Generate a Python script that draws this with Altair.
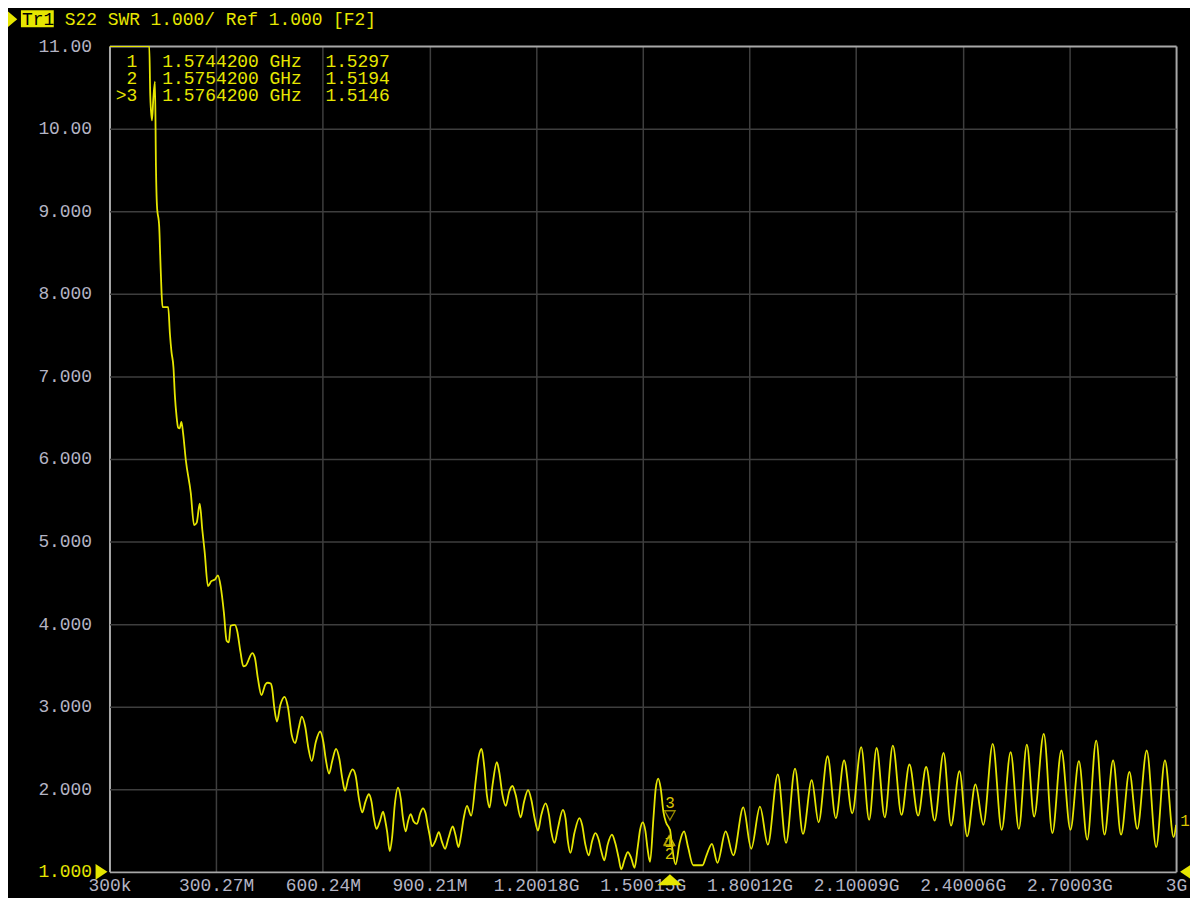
import altair as alt
import pandas as pd

FONT = "Liberation Mono"
YELLOW = "#e6e600"
MARK_YELLOW = "#d8c400"
LABEL_GREY = "#b4b4c4"
GRID = "#3e3e3e"
FRAME = "#a8a8a8"

# ---- trace (S22 SWR), frequency in MHz ----
freq_mhz = [
    0.3, 56.3, 112.2, 115.0, 119.8, 123.4, 128.2, 131.0, 133.8, 140.2,
    143.0, 146.6, 149.5, 165.4, 170.2, 174.6, 180.2, 184.2, 188.6, 193.4,
    197.6, 202.6, 207.4, 214.9, 228.9, 238.2, 245.7, 254.1, 261.4, 268.1,
    277.3, 286.6, 296.9, 305.3, 312.9, 322.1, 329.7, 336.1, 340.9, 352.9,
    359.3, 368.8, 376.7, 383.7, 401.9, 408.9, 417.8, 427.6, 438.8, 445.2,
    453.6, 457.8, 464.0, 471.3, 480.8, 492.8, 502.0, 513.2, 522.7, 532.0,
    541.2, 550.7, 560.0, 569.2, 580.4, 592.7, 601.9, 608.4, 617.9, 627.1,
    637.5, 646.7, 655.1, 662.7, 671.9, 683.9, 692.3, 701.8, 711.1, 720.3,
    729.8, 737.1, 743.8, 751.1, 760.6, 769.8, 776.3, 781.0, 788.6, 795.0,
    802.6, 811.8, 819.4, 825.8, 833.4, 839.8, 847.3, 855.7, 865.0, 874.2,
    881.8, 889.3, 895.8, 900.5, 907.0, 916.2, 926.5, 934.9, 944.2, 953.7,
    965.7, 973.3, 981.7, 988.9, 996.5, 1005.7, 1017.5, 1030.9, 1038.5, 1046.9,
    1054.4, 1061.7, 1069.3, 1077.6, 1089.7, 1096.4, 1105.6, 1114.9, 1124.4, 1133.6,
    1142.8, 1156.8, 1166.3, 1177.5, 1186.8, 1196.0, 1205.5, 1214.8, 1226.8, 1236.3,
    1242.7, 1252.0, 1261.5, 1275.5, 1282.8, 1289.5, 1296.8, 1307.9, 1321.9, 1329.5,
    1338.7, 1348.2, 1357.5, 1366.7, 1376.2, 1383.5, 1391.9, 1401.4, 1413.4, 1422.7,
    1432.2, 1439.5, 1449.0, 1458.2, 1467.4, 1477.0, 1486.2, 1492.6, 1500.2, 1507.7,
    1513.3, 1520.6, 1530.1, 1536.6, 1543.6, 1550.6, 1558.1, 1565.4, 1574.42, 1575.42,
    1576.42, 1582.7, 1592.5, 1603.7, 1616.3, 1627.5, 1642.1, 1668.1, 1679.3, 1694.7,
    1710.1, 1733.3, 1754.8, 1782.8, 1805.2, 1829.8, 1851.9, 1879.9, 1903.1, 1928.3,
    1950.7, 1975.3, 1994.6, 2019.8, 2043.1, 2066.3, 2089.2, 2114.4, 2136.8, 2157.8,
    2180.7, 2203.4, 2227.8, 2250.1, 2274.5, 2297.1, 2320.9, 2346.1, 2367.1, 2390.9,
    2412.4, 2435.7, 2458.0, 2484.4, 2509.5, 2534.7, 2557.9, 2580.3, 2600.8, 2627.9,
    2652.2, 2677.4, 2702.9, 2726.7, 2750.2, 2775.4, 2798.6, 2822.9, 2845.3, 2868.6,
    2890.9, 2917.5, 2944.1, 2968.7, 2993.1, 3000.0,
]
swr = [
    11.0, 11.0, 11.0, 10.40, 10.10, 10.35, 10.57, 9.54, 9.07, 8.81,
    8.46, 8.03, 7.84, 7.84, 7.52, 7.30, 7.11, 6.77, 6.53, 6.38,
    6.37, 6.45, 6.31, 5.99, 5.59, 5.20, 5.23, 5.46, 5.14, 4.87,
    4.46, 4.52, 4.54, 4.59, 4.46, 4.14, 3.80, 3.78, 3.98, 3.99,
    3.92, 3.66, 3.49, 3.50, 3.65, 3.60, 3.34, 3.14, 3.27, 3.29,
    3.28, 3.22, 2.98, 2.82, 3.02, 3.12, 3.00, 2.65, 2.56, 2.73,
    2.88, 2.76, 2.49, 2.34, 2.57, 2.70, 2.57, 2.37, 2.19, 2.35,
    2.49, 2.37, 2.13, 1.98, 2.13, 2.24, 2.17, 1.89, 1.72, 1.85,
    1.94, 1.85, 1.65, 1.52, 1.61, 1.73, 1.61, 1.49, 1.25, 1.41,
    1.81, 2.02, 1.89, 1.65, 1.49, 1.61, 1.70, 1.61, 1.58, 1.71,
    1.77, 1.71, 1.55, 1.45, 1.31, 1.37, 1.48, 1.37, 1.28, 1.41,
    1.55, 1.45, 1.30, 1.44, 1.65, 1.80, 1.68, 2.13, 2.39, 2.49,
    2.27, 1.93, 1.78, 2.05, 2.33, 2.21, 1.93, 1.80, 1.97, 2.04,
    1.93, 1.66, 1.85, 1.99, 1.87, 1.65, 1.50, 1.69, 1.83, 1.69,
    1.49, 1.35, 1.53, 1.75, 1.65, 1.37, 1.23, 1.47, 1.65, 1.57,
    1.33, 1.20, 1.37, 1.47, 1.39, 1.25, 1.14, 1.33, 1.45, 1.35,
    1.17, 1.03, 1.15, 1.24, 1.17, 1.05, 1.31, 1.51, 1.60, 1.49,
    1.29, 1.12, 1.65, 2.01, 2.13, 2.01, 1.73, 1.60, 1.5297, 1.5194,
    1.5146, 1.30, 1.09, 1.35, 1.49, 1.30, 1.08, 1.08, 1.20, 1.34,
    1.11, 1.49, 1.20, 1.78, 1.28, 1.79, 1.33, 2.18, 1.35, 2.25,
    1.46, 2.11, 1.60, 2.40, 1.65, 2.35, 1.71, 2.51, 1.63, 2.50,
    1.66, 2.53, 1.69, 2.30, 1.68, 2.27, 1.62, 2.44, 1.56, 2.22,
    1.43, 2.06, 1.57, 2.55, 1.51, 2.45, 1.52, 2.54, 1.67, 2.67,
    1.47, 2.47, 1.51, 2.34, 1.39, 2.59, 1.45, 2.35, 1.45, 2.21,
    1.52, 2.47, 1.30, 2.35, 1.42, 1.57,
]
assert len(freq_mhz) == len(swr)

# ---- axes ----
x_tick_values = [0.3, 300.27, 600.24, 900.21, 1200.18, 1500.15,
                 1800.12, 2100.09, 2400.06, 2700.03, 3000.0]
x_tick_labels = ["300k", "300.27M", "600.24M", "900.21M", "1.20018G", "1.50015G",
                 "1.80012G", "2.10009G", "2.40006G", "2.70003G", "3G"]
y_tick_values = [1, 2, 3, 4, 5, 6, 7, 8, 9, 10, 11]
y_tick_labels = ["1.000", "2.000", "3.000", "4.000", "5.000", "6.000",
                 "7.000", "8.000", "9.000", "10.00", "11.00"]

# ---- markers ----
marker_ids = [1, 2, 3]
marker_freq_ghz = [1.5744200, 1.5754200, 1.5764200]
marker_swr = [1.5297, 1.5194, 1.5146]
active_marker = 3

title_trace = "Tr1"
title_text = "S22 SWR 1.000/ Ref 1.000 [F2]"
trace_label = "1"

trace = pd.DataFrame({"freq": freq_mhz, "swr": swr})
markers = pd.DataFrame({
    "id": marker_ids,
    "freq": [g * 1000 for g in marker_freq_ghz],
    "swr": marker_swr,
    "label": [str(i) for i in marker_ids],
})
one = pd.DataFrame({"k": [0]})

x_js = "[" + ",".join(f"'{s}'" for s in x_tick_labels) + "]"
y_js = "[" + ",".join(f"'{s}'" for s in y_tick_labels) + "]"
edge_x = "datum.value < 1 || datum.value > 2999"
edge_y = "datum.value < 1.5 || datum.value > 10.5"

x_scale = alt.Scale(domain=[x_tick_values[0], x_tick_values[-1]], nice=False, zero=False)
y_scale = alt.Scale(domain=[y_tick_values[0], y_tick_values[-1]], nice=False, zero=False)

x_axis = alt.Axis(
    values=x_tick_values, labelExpr=f"{x_js}[round((datum.value - 0.3) / 299.97)]",
    title=None, grid=True, domain=False, ticks=False,
    gridColor={"condition": {"test": edge_x, "value": FRAME}, "value": GRID},
    gridWidth={"condition": {"test": edge_x, "value": 2}, "value": 1.5},
    labelPadding=5, labelFont=FONT, labelFontSize=18, labelColor=LABEL_GREY,
    labelOverlap=False, labelFlush=False,
)
y_axis = alt.Axis(
    values=y_tick_values, labelExpr=f"{y_js}[round(datum.value) - 1]",
    title=None, grid=True, domain=False, ticks=False,
    gridColor={"condition": {"test": edge_y, "value": FRAME}, "value": GRID},
    gridWidth={"condition": {"test": edge_y, "value": 2}, "value": 1.5},
    labelPadding=18, labelFont=FONT, labelFontSize=18,
    labelColor={"condition": {"test": "datum.value == 1", "value": YELLOW}, "value": LABEL_GREY},
    labelOverlap=False, labelFlush=False,
)

X = alt.X("freq:Q", scale=x_scale, axis=x_axis)
Y = alt.Y("swr:Q", scale=y_scale, axis=y_axis)

line = alt.Chart(trace).mark_line(
    color=YELLOW, strokeWidth=1.8, interpolate="monotone", clip=True
).encode(x=X, y=Y)

active = alt.Chart(markers).transform_filter(f"datum.id == {active_marker}")
others = alt.Chart(markers).transform_filter(f"datum.id != {active_marker}")

act_tri = active.mark_point(
    shape="M-1,-0.9L1,-0.9L0,0.9Z", size=110, filled=False, color=MARK_YELLOW,
    strokeWidth=1.3, yOffset=-14
).encode(x="freq:Q", y="swr:Q")
act_txt = active.mark_text(
    font=FONT, fontSize=16, color=MARK_YELLOW, yOffset=-26
).encode(x="freq:Q", y="swr:Q", text="label:N")
oth_tri = others.mark_point(
    shape="M-1,0.9L1,0.9L0,-0.9Z", size=110, filled=False, color=MARK_YELLOW,
    strokeWidth=1.3, yOffset=12
).encode(x="freq:Q", y="swr:Q")
m1_txt = alt.Chart(markers).transform_filter("datum.id == 1").mark_text(
    font=FONT, fontSize=16, color=MARK_YELLOW, yOffset=14
).encode(x="freq:Q", y="swr:Q", text="label:N")
m2_txt = alt.Chart(markers).transform_filter("datum.id == 2").mark_text(
    font=FONT, fontSize=16, color=MARK_YELLOW, yOffset=25
).encode(x="freq:Q", y="swr:Q", text="label:N")

bottom_tri = active.mark_point(
    shape="M-1,0.44L1,0.44L0,-0.44Z", size=625, filled=True, color=YELLOW,
    opacity=1, yOffset=8
).encode(x="freq:Q", y=alt.datum(y_tick_values[0]))

left_tri = alt.Chart(one).mark_point(
    shape="M-0.75,-1L0.75,0L-0.75,1Z", size=256, filled=True, color=YELLOW,
    opacity=1, xOffset=-8
).encode(x=alt.datum(x_tick_values[0]), y=alt.datum(y_tick_values[0]))
right_tri = alt.Chart(one).mark_point(
    shape="M0.75,-1L-0.75,0L0.75,1Z", size=256, filled=True, color=YELLOW,
    opacity=1, xOffset=10
).encode(x=alt.datum(x_tick_values[-1]), y=alt.datum(y_tick_values[0]))

end_lbl = alt.Chart(trace.tail(1).assign(t=trace_label)).mark_text(
    font=FONT, fontSize=16, color=MARK_YELLOW, xOffset=9, yOffset=-4
).encode(x="freq:Q", y="swr:Q", text="t:N")

# ---- title strip ----
title_arrow = alt.Chart(one).mark_point(
    shape="M-0.6,-1L0.6,0L-0.6,1Z", size=256, filled=True, color=YELLOW, opacity=1
).encode(x=alt.value(-97.5), y=alt.value(-27))
title_box = alt.Chart(one).mark_rect(color=YELLOW).encode(
    x=alt.value(-89), x2=alt.value(-56), y=alt.value(-36), y2=alt.value(-19))
title_tr = alt.Chart(pd.DataFrame({"t": [title_trace]})).mark_text(
    font=FONT, fontSize=18, color="black", align="left", baseline="alphabetic"
).encode(x=alt.value(-88), y=alt.value(-21), text="t:N")
title_main = alt.Chart(pd.DataFrame({"t": [title_text]})).mark_text(
    font=FONT, fontSize=18, color=YELLOW, align="left", baseline="alphabetic"
).encode(x=alt.value(-45), y=alt.value(-21), text="t:N")

# ---- marker table ----
table_layers = []
for i, (mid, fg, v) in enumerate(zip(marker_ids, marker_freq_ghz, marker_swr)):
    yy = 21 + 17 * i
    row = pd.DataFrame({
        "a": [(">" if mid == active_marker else "") + str(mid)],
        "b": [f"{fg:.7f} GHz"],
        "c": [f"{v:.4f}"],
    })
    base = alt.Chart(row)
    table_layers.append(base.mark_text(font=FONT, fontSize=18, color=YELLOW, align="right",
                                       baseline="alphabetic").encode(x=alt.value(28), y=alt.value(yy), text="a:N"))
    table_layers.append(base.mark_text(font=FONT, fontSize=18, color=YELLOW, align="left",
                                       baseline="alphabetic").encode(x=alt.value(53), y=alt.value(yy), text="b:N"))
    table_layers.append(base.mark_text(font=FONT, fontSize=18, color=YELLOW, align="left",
                                       baseline="alphabetic").encode(x=alt.value(217), y=alt.value(yy), text="c:N"))

chart = alt.layer(
    line, act_tri, act_txt, oth_tri, m1_txt, m2_txt, bottom_tri, left_tri, right_tri, end_lbl,
    title_arrow, title_box, title_tr, title_main, *table_layers
).properties(
    width=1072, height=830, autosize="none",
    padding={"left": 102, "top": 36, "right": 14, "bottom": 24},
    background="black",
).configure_view(strokeWidth=0)

chart.save("out.html", embed_options={"renderer": "svg", "actions": False})
